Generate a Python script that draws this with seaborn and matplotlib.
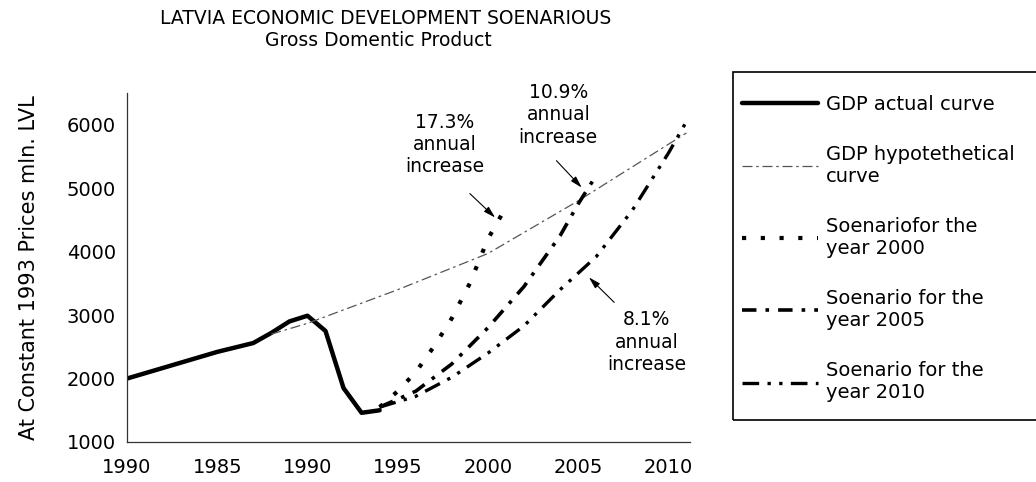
import numpy as np
import pandas as pd
import seaborn as sns
import matplotlib.pyplot as plt
from matplotlib.patches import Rectangle

# data
actual_years = [1980, 1985, 1987, 1988, 1989, 1990, 1991, 1992, 1993, 1994]
actual_gdp = [2000, 2420, 2560, 2720, 2900, 2990, 2750, 1850, 1460, 1500]

hypo_years = [1988, 1990, 1995, 2000, 2005, 2011]
hypo_gdp = [2700, 2870, 3400, 3970, 4800, 5870]

s2000_years = [1994, 1995, 1996, 1997, 1998, 1999, 2000, 2001]
s2000_gdp = [1550, 1800, 2100, 2500, 2950, 3500, 4200, 4700]

s2005_years = [1994, 1996, 1998, 2000, 2002, 2004, 2005, 2006]
s2005_gdp = [1550, 1800, 2230, 2800, 3450, 4250, 4750, 5200]

s2010_years = [1994, 1996, 1998, 2000, 2002, 2004, 2006, 2008, 2010, 2011]
s2010_gdp = [1550, 1720, 2020, 2400, 2830, 3400, 3920, 4650, 5550, 6050]

xtick_pos = [1980, 1985, 1990, 1995, 2000, 2005, 2010]
xtick_labels = ["1990", "1985", "1990", "1995", "2000", "2005", "2010"]

labels = ["GDP actual curve", "GDP hypotethetical\ncurve", "Soenariofor the\nyear 2000",
          "Soenario for the\nyear 2005", "Soenario for the\nyear 2010"]

sns.set_style("white")
plt.rcParams['font.family'] = ['DejaVu Sans']
plt.rcParams['text.color'] = 'black'
plt.rcParams['axes.labelcolor'] = 'black'
plt.rcParams['xtick.color'] = 'black'
plt.rcParams['ytick.color'] = 'black'

fig = plt.figure(figsize=(10.36, 4.82), dpi=100)
ax = fig.add_axes([0.1226, 0.083, 0.5434, 0.724])

# draw the series
sns.lineplot(x=actual_years, y=actual_gdp, ax=ax, color='black', lw=3.2,
             linestyle='-', label=labels[0])
sns.lineplot(x=hypo_years, y=hypo_gdp, ax=ax, color='#555555', lw=0.9,
             linestyle=(0, (8, 3, 2, 3)), label=labels[1])
sns.lineplot(x=s2000_years, y=s2000_gdp, ax=ax, color='black', lw=3,
             linestyle=(0, (1, 3.5)), label=labels[2])
sns.lineplot(x=s2005_years, y=s2005_gdp, ax=ax, color='black', lw=2.6,
             linestyle=(0, (4, 2.5, 1, 2.5)), label=labels[3])
sns.lineplot(x=s2010_years, y=s2010_gdp, ax=ax, color='black', lw=2.4,
             linestyle=(0, (5, 2.5, 1, 2.5, 1, 2.5)), label=labels[4])

ax.set_xlim(1980, 2011.2)
ax.set_ylim(1000, 6500)
ax.set_xticks(xtick_pos)
ax.set_xticklabels(xtick_labels)
ax.set_yticks([1000, 2000, 3000, 4000, 5000, 6000])
ax.tick_params(axis='x', direction='inout', length=7, width=0.9, labelsize=14, pad=8)
ax.tick_params(axis='y', direction='in', length=2, width=0.8, labelsize=14, pad=8)
ax.xaxis.get_major_ticks()[4].tick1line.set_visible(False)
for s in ['top', 'right']:
    ax.spines[s].set_visible(False)
for s in ['left', 'bottom']:
    ax.spines[s].set_color('#333333')
    ax.spines[s].set_linewidth(0.9)
ax.set_xlabel('')
ax.set_ylabel('At Constant 1993 Prices mln. LVL', fontsize=15, labelpad=20)

# annotations
notes = [("17.3%\nannual\nincrease", (1997.6, 5686), (1999.0, 4915), (2000.4, 4538)),
         ("10.9%\nannual\nincrease", (2003.9, 6157), (2003.8, 5434), (2005.2, 5010)),
         ("8.1%\nannual\nincrease", (2008.8, 2572), (2007.0, 3201), (2005.6, 3594))]
for txt, pos, tail, tip in notes:
    ax.text(pos[0], pos[1], txt, ha='center', va='center', fontsize=13.5,
            linespacing=1.22, clip_on=False)
    ax.annotate('', xy=tip, xytext=tail,
                arrowprops=dict(arrowstyle='-|>,head_length=0.7,head_width=0.2',
                                color='black', lw=0.8, shrinkA=0, shrinkB=0))

fig.text(0.372, 0.962, 'LATVIA ECONOMIC DEVELOPMENT SOENARIOUS', ha='center',
         va='center', fontsize=13.5)
fig.text(0.365, 0.916, 'Gross Domentic Product', ha='center', va='center', fontsize=13.5)

# legend box runs off the right edge, so draw the frame separately
fig.patches.append(Rectangle((0.7075, 0.1286), 0.31, 0.722, transform=fig.transFigure,
                             fill=False, edgecolor='black', lw=1.2))
handles, lbls = ax.get_legend_handles_labels()
ax.get_legend().remove()
fig.legend(handles, lbls, loc='upper left', bbox_to_anchor=(0.716, 0.803),
           fontsize=14, frameon=False, handlelength=3.9, handletextpad=0.45,
           labelspacing=1.6, borderpad=0, borderaxespad=0)

fig.savefig('out.png', dpi=100)
